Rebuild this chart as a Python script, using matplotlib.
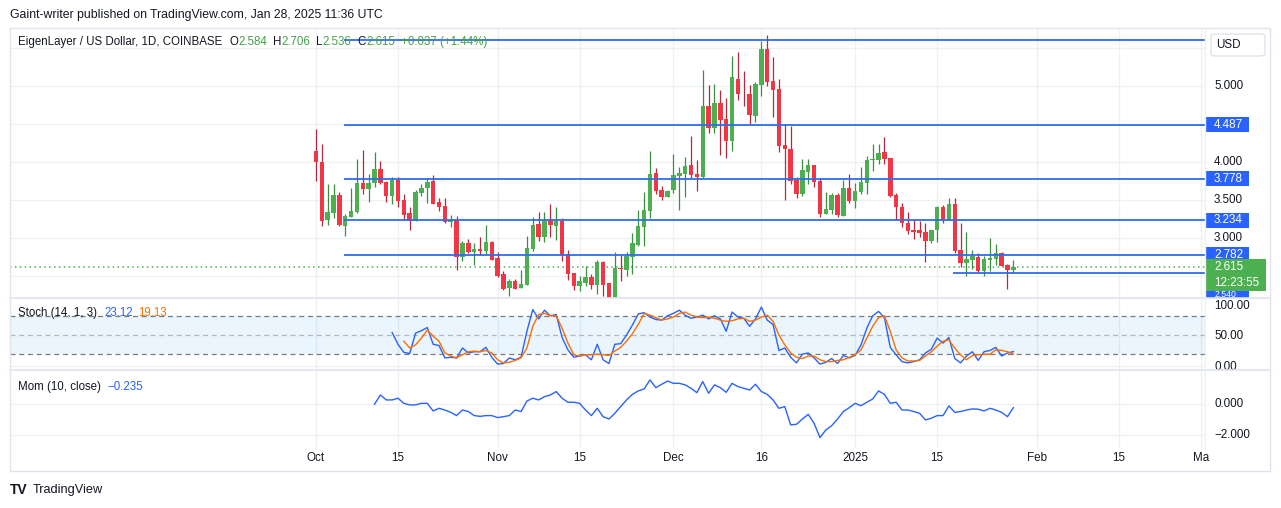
import matplotlib
matplotlib.use("Agg")
from matplotlib import pyplot as plt
from matplotlib.patches import Rectangle, FancyBboxPatch
import numpy as np

W, H = 1281, 508

# daily candles, day 0 = 1 Oct 2024
opens = [4.145, 4.000, 3.241, 3.333, 3.566, 3.162, 3.281, 3.346, 3.724, 3.649,
         3.719, 3.908, 3.737, 3.557, 3.768, 3.496, 3.329, 3.224, 3.596, 3.662,
         3.750, 3.474, 3.421, 3.206, 3.237, 2.746, 2.934, 2.820, 2.851, 2.833,
         2.947, 2.732, 2.526, 2.346, 2.430, 2.346, 2.386, 2.860, 3.184, 3.018,
         3.237, 3.162, 3.219, 2.785, 2.535, 2.373, 2.408, 2.487, 2.386, 2.680,
         2.408, 2.200, 2.601, 2.579, 2.754, 2.908, 3.149, 3.360, 3.855, 3.632,
         3.544, 3.632, 3.820, 3.842, 3.961, 3.842, 3.798, 4.737, 4.452, 4.776,
         4.566, 4.281, 5.092, 4.908, 4.895, 4.610, 5.018, 5.487, 5.066, 4.961,
         4.224, 4.171, 3.768, 3.583, 3.873, 3.961, 3.750, 3.320, 3.368, 3.566,
         3.294, 3.658, 3.491, 3.610, 3.728, 4.026, 4.031, 4.132, 4.053, 3.566,
         3.408, 3.193, 3.105, 3.105, 3.079, 2.965, 3.105, 3.412, 3.237, 3.452,
         2.842, 2.675, 2.711, 2.746, 2.570, 2.711, 2.724, 2.798, 2.645, 2.584]
highs = [4.434, 4.237, 3.711, 3.711, 3.605, 3.316, 3.658, 4.039, 4.158, 3.842,
         4.132, 4.013, 3.754, 3.798, 3.798, 3.579, 3.404, 3.632, 3.711, 3.789,
         3.829, 3.526, 3.522, 3.303, 3.289, 2.965, 2.987, 2.930, 3.013, 3.167,
         2.965, 2.811, 2.570, 2.456, 2.465, 2.579, 3.026, 3.272, 3.342, 3.342,
         3.447, 3.404, 3.268, 2.842, 2.539, 2.504, 2.632, 2.526, 2.715, 2.693,
         2.410, 2.816, 2.776, 2.816, 3.070, 3.368, 3.605, 4.145, 3.921, 3.684,
         3.632, 4.105, 3.939, 4.070, 4.342, 4.031, 5.211, 5.013, 5.031, 4.947,
         4.838, 5.395, 5.447, 5.197, 5.013, 5.057, 5.592, 5.671, 5.386, 5.092,
         4.496, 4.478, 3.807, 4.039, 4.039, 3.961, 3.785, 3.605, 3.588, 3.588,
         3.763, 3.842, 3.719, 3.939, 4.079, 4.232, 4.232, 4.329, 4.053, 3.596,
         3.456, 3.338, 3.237, 3.228, 3.193, 3.105, 3.425, 3.434, 3.522, 3.522,
         3.193, 3.079, 2.842, 2.798, 2.768, 2.996, 2.921, 2.820, 2.654, 2.706]
lows = [3.750, 3.158, 3.175, 3.268, 3.162, 3.031, 3.272, 3.333, 3.583, 3.478,
        3.675, 3.711, 3.478, 3.452, 3.404, 3.241, 3.110, 3.224, 3.557, 3.465,
        3.443, 3.355, 3.193, 3.149, 2.583, 2.702, 2.803, 2.649, 2.776, 2.789,
        2.711, 2.491, 2.320, 2.241, 2.333, 2.338, 2.386, 2.833, 2.965, 2.952,
        3.018, 2.969, 2.702, 2.447, 2.320, 2.307, 2.368, 2.333, 2.268, 2.241,
        2.180, 2.180, 2.430, 2.504, 2.531, 2.895, 2.895, 3.268, 3.583, 3.500,
        3.535, 3.588, 3.368, 3.544, 3.794, 3.618, 3.785, 4.386, 4.386, 4.092,
        4.057, 4.149, 4.816, 4.737, 4.496, 4.531, 4.873, 5.004, 4.596, 4.136,
        3.500, 3.711, 3.531, 3.553, 3.715, 3.675, 3.281, 3.311, 3.311, 3.272,
        3.294, 3.456, 3.390, 3.575, 3.579, 3.886, 3.969, 3.974, 3.544, 3.237,
        3.140, 3.048, 2.987, 3.018, 2.689, 2.930, 2.952, 3.193, 3.237, 2.807,
        2.623, 2.504, 2.588, 2.548, 2.504, 2.570, 2.645, 2.636, 2.333, 2.536]
closes = [4.000, 3.228, 3.342, 3.566, 3.171, 3.289, 3.355, 3.724, 3.649, 3.724,
          3.908, 3.724, 3.557, 3.768, 3.491, 3.307, 3.219, 3.605, 3.658, 3.737,
          3.452, 3.412, 3.206, 3.237, 2.746, 2.934, 2.820, 2.851, 2.833, 2.947,
          2.715, 2.504, 2.333, 2.430, 2.333, 2.390, 2.868, 3.167, 3.018, 3.219,
          3.175, 3.219, 2.776, 2.531, 2.373, 2.430, 2.487, 2.386, 2.680, 2.386,
          2.200, 2.601, 2.592, 2.768, 2.930, 3.154, 3.368, 3.842, 3.623, 3.544,
          3.614, 3.829, 3.851, 3.947, 3.829, 3.807, 4.737, 4.452, 4.776, 4.557,
          4.281, 5.118, 4.899, 4.904, 4.618, 5.026, 5.487, 5.057, 4.947, 4.215,
          4.167, 3.754, 3.583, 3.895, 3.961, 3.741, 3.320, 3.377, 3.566, 3.303,
          3.658, 3.491, 3.614, 3.732, 4.026, 4.035, 4.118, 4.044, 3.557, 3.404,
          3.193, 3.092, 3.083, 3.070, 2.965, 3.105, 3.412, 3.237, 3.452, 2.833,
          2.675, 2.719, 2.763, 2.570, 2.719, 2.732, 2.798, 2.636, 2.578, 2.615]

# Stoch (14, 1, 3): %K from day 13, %D from day 15
stoch_k = [54, 35, 22, 20, 53, 57, 62, 35, 33, 13,
           14, 13, 29, 21, 23, 23, 30, 14, 3, 4,
           13, 10, 14, 56, 91, 76, 90, 81, 83, 46,
           26, 14, 16, 18, 10, 35, 10, 4, 35, 36,
           50, 66, 84, 86, 79, 75, 74, 81, 85, 90,
           82, 77, 79, 82, 76, 81, 76, 56, 87, 79,
           77, 64, 76, 95, 74, 67, 25, 29, 14, 5,
           19, 21, 13, 3, 6, 12, 4, 17, 13, 17,
           34, 61, 81, 88, 78, 30, 18, 7, 5, 7,
           10, 21, 27, 45, 37, 46, 12, 5, 16, 23,
           9, 23, 25, 30, 16, 21, 23.12]
stoch_d = [40, 29, 34, 45, 58, 48, 40, 21, 16, 13,
           18, 23, 24, 23, 25, 21, 10, 5, 6, 9,
           13, 29, 64, 83, 85, 81, 81, 61, 37, 18,
           16, 18, 18, 19, 18, 17, 24, 30, 40, 52,
           67, 85, 82, 78, 74, 76, 79, 85, 87, 82,
           79, 78, 79, 77, 74, 72, 73, 76, 77, 72,
           74, 79, 82, 72, 50, 34, 21, 14, 12, 16,
           16, 10, 7, 7, 9, 10, 14, 18, 26, 45,
           64, 78, 81, 56, 26, 13, 8, 8, 9, 16,
           23, 32, 40, 42, 29, 18, 10, 17, 18, 19,
           19, 26, 25, 23, 19.13]
# Mom (10, close) from day 10
momentum = [-0.02, 0.58, 0.26, 0.26, 0.37, 0.04, -0.06, -0.06, 0.04, 0.04,
            -0.45, -0.28, -0.39, -0.54, -0.75, -0.39, -0.49, -0.75, -0.80, -0.75,
            -0.75, -0.88, -0.82, -0.75, -0.39, -0.49, 0.19, 0.37, 0.26, 0.47,
            0.58, 0.80, 0.37, 0.11, 0.11, 0.04, -0.39, -0.75, -0.28, -0.82,
            -0.97, -0.60, -0.17, 0.26, 0.62, 0.84, 0.97, 1.55, 1.05, 1.27,
            1.48, 1.33, 1.33, 1.23, 1.01, 0.73, 1.44, 0.69, 1.23, 1.05,
            0.75, 1.33, 1.12, 1.01, 0.90, 1.27, 0.80, 0.62, 0.26, -0.28,
            -0.17, -1.35, -1.31, -0.97, -0.67, -1.25, -2.17, -1.68, -1.40, -0.97,
            -0.49, -0.24, 0.04, -0.11, 0.11, 0.32, 0.84, 0.62, 0.04, 0.11,
            -0.39, -0.39, -0.49, -0.60, -1.03, -0.92, -0.75, -0.75, -0.13, -0.54,
            -0.49, -0.39, -0.32, -0.34, -0.45, -0.28, -0.39, -0.54, -0.82, -0.235]

levels = [5.605, 4.487, 3.778, 3.234, 2.782]
level_labels = ['4.487', '3.778', '3.234', '2.782']
support = 2.540
price_ticks = [5.0, 4.0, 3.5, 3.0]
tick_days = [0, 14, 31, 45, 61, 76, 92, 106, 123, 137, 151]
tick_labels = ['Oct', '15', 'Nov', '15', 'Dec', '16', '2025', '15', 'Feb', '15', 'Ma']

GREEN = '#4caf50'
RED = '#f23645'
BLUE = '#2962ff'
ORANGE = '#ff6d00'
TXT = '#131722'
GRID = '#eef0f4'

plt.rcParams['font.family'] = ['Liberation Sans', 'DejaVu Sans']

fig = plt.figure(figsize=(W / 100, H / 100), dpi=100)


def px_axes(x0, y0, x1, y1):
    a = fig.add_axes([x0 / W, 1 - y1 / H, (x1 - x0) / W, (y1 - y0) / H])
    a.set_axis_off()
    return a


def text_run(x, y, pieces, size=8.3):
    r = fig.canvas.get_renderer()
    for s, col, gap in pieces:
        t = fig.text(x / W, 1 - y / H, s, color=col, fontsize=size, va='center', ha='left')
        x += t.get_window_extent(r).width + gap


XLIM = (-52.2, 151.7)

# ---- price pane
ax = px_axes(10, 28, 1205, 298)
ax.set_xlim(*XLIM)
ax.set_ylim(2.211, 5.763)
for d in tick_days:
    ax.axvline(d, color=GRID, lw=1, zorder=0)
for p in np.arange(2.5, 5.6, 0.5):
    ax.axhline(p, color=GRID, lw=1, zorder=0)

o = np.array(opens)
c = np.array(closes)
days = np.arange(len(c))
up = c >= o
body_col = np.where(up, GREEN, RED)
wick_col = np.where(up, '#3d8f40', '#b8283a')
ax.vlines(days, lows, highs, colors=wick_col, lw=0.9, zorder=2)
ax.bar(days, np.maximum(np.abs(c - o), 0.01), bottom=np.minimum(o, c), width=0.76,
       color=body_col, lw=0, zorder=3)

ax.hlines(levels, 4.8, XLIM[1], color='#2f6de8', lw=1.3, zorder=4)
ax.hlines(support, 108.7, XLIM[1], color='#2f6de8', lw=1.3, zorder=4)
ax.axhline(closes[-1], color=GREEN, ls=(0, (1, 2.2)), lw=1.1, zorder=1)

# ---- price scale
axr = px_axes(1205, 28, 1270, 298)
axr.set_xlim(0, 1)
axr.set_ylim(2.211, 5.763)
for p in price_ticks:
    axr.text(0.14, p, f'{p:.3f}', va='center', ha='left', fontsize=8.4, color=TXT)
hb = 7.5 / 76
for p, lab in zip(levels[1:], level_labels):
    axr.add_patch(Rectangle((0.02, p - hb), 0.66, 2 * hb, color='#2962ff', lw=0))
    axr.text(0.14, p, lab, va='center', ha='left', fontsize=8.4, color='white')
# support label, mostly hidden below the last-price box
sup_y = 2.203
axr.add_patch(Rectangle((0.02, sup_y - hb), 0.66, 2 * hb, color='#2962ff', lw=0))
t = axr.text(0.14, 2.255, f'{support:.3f}', va='center', ha='left', fontsize=6.3, color='white')
t.set_clip_box(axr.bbox)
axr.add_patch(Rectangle((0.02, 2.303), 0.92, 0.421, color=GREEN, lw=0, zorder=5))
axr.text(0.14, 2.618, f'{closes[-1]:.3f}', va='center', ha='left', fontsize=8.4, color='white', zorder=6)
axr.text(0.14, 2.408, '12:23:55', va='center', ha='left', fontsize=8.4, color='white', zorder=6)
usd = FancyBboxPatch((1211 / W, 1 - 56 / H), 54 / W, 22 / H, boxstyle='round,pad=0,rounding_size=0.004',
                     transform=fig.transFigure, fc='white', ec='#e0e3eb', lw=1)
fig.add_artist(usd)
fig.text(1216 / W, 1 - 45 / H, 'USD', fontsize=8.4, color=TXT, va='center')

# ---- stochastic pane
axs = px_axes(10, 298, 1205, 370)
axs.set_xlim(*XLIM)
axs.set_ylim(-6.5, 109.7)
for d in tick_days:
    axs.axvline(d, color=GRID, lw=1, zorder=0)
axs.axhspan(20, 80, color='#2196f3', alpha=0.09, lw=0)
axs.axhline(80, color='#787b86', ls=(0, (4, 3)), lw=0.9)
axs.axhline(50, color='#787b86', ls=(0, (4, 3)), lw=0.9, alpha=0.5)
axs.axhline(20, color='#787b86', ls=(0, (4, 3)), lw=0.9)
axs.axhline(0, color=GRID, lw=1, zorder=0)
axs.plot(np.arange(13, 120), stoch_k, color=BLUE, lw=1)
axs.plot(np.arange(15, 120), stoch_d, color=ORANGE, lw=1)

axsr = px_axes(1205, 298, 1270, 370)
axsr.set_ylim(-6.5, 109.7)
for v, dv in [(100, -3.5), (50, -1.5), (0, -1.5)]:
    axsr.text(0.14, v + dv, f'{v:.2f}', va='center', ha='left', fontsize=8.4, color=TXT)

# ---- momentum pane
axm = px_axes(10, 370, 1205, 448)
axm.set_xlim(*XLIM)
axm.set_ylim(-2.84, 2.19)
for d in tick_days:
    axm.axvline(d, color=GRID, lw=1, zorder=0)
axm.axhline(0, color=GRID, lw=1, zorder=0)
axm.axhline(-2, color=GRID, lw=1, zorder=0)
axm.plot(np.arange(10, 120), momentum, color=BLUE, lw=1)

axmr = px_axes(1205, 370, 1270, 448)
axmr.set_ylim(-2.84, 2.19)
for v, lab in [(0, '0.000'), (-2, '\u22122.000')]:
    axmr.text(0.14, v, lab, va='center', ha='left', fontsize=8.4, color=TXT)

# ---- time axis labels
for d, lab in zip(tick_days, tick_labels):
    xp = axm.transData.transform((d, 0))[0]
    fig.text(xp / W, 1 - 458 / H, lab, ha='center', va='center', fontsize=8.4, color=TXT)

# ---- frame and separators
fig.add_artist(Rectangle((10 / W, 1 - 471 / H), 1260 / W, 443 / H, transform=fig.transFigure,
                         fill=False, ec='#e0e3eb', lw=1))
for yy in [298, 370]:
    fig.add_artist(plt.Line2D([10 / W, 1270 / W], [1 - yy / H] * 2, color='#e0e3eb', lw=1.2))
fig.add_artist(plt.Line2D([1205 / W] * 2, [1 - 28 / H, 1 - 448 / H], color='#eef0f4', lw=1))

# ---- texts
fig.text(10 / W, 1 - 15 / H, 'Gaint-writer published on TradingView.com, Jan 28, 2025 11:36 UTC',
         fontsize=8.8, color=TXT, va='center')
LG = '#43a047'
text_run(18, 42, [('EigenLayer / US Dollar, 1D, COINBASE', TXT, 7),
                  ('O', TXT, 0), ('2.584', LG, 6), ('H', TXT, 0), ('2.706', LG, 6),
                  ('L', TXT, 0), ('2.536', LG, 6), ('C', TXT, 0), ('2.615', LG, 6),
                  ('+0.037 (+1.44%)', LG, 0)])
text_run(18, 313, [('Stoch (14, 1, 3)', TXT, 7), ('23.12', BLUE, 6), ('19.13', ORANGE, 0)])
text_run(18, 387, [('Mom (10, close)', TXT, 7), ('\u22120.235', BLUE, 0)])

fig.text(10 / W, 1 - 490 / H, 'TV', fontsize=10, fontweight='heavy', color=TXT, va='center')
fig.text(33 / W, 1 - 490 / H, 'TradingView', fontsize=9.2, color=TXT, va='center')

fig.savefig('out.png', dpi=100, facecolor='white')
